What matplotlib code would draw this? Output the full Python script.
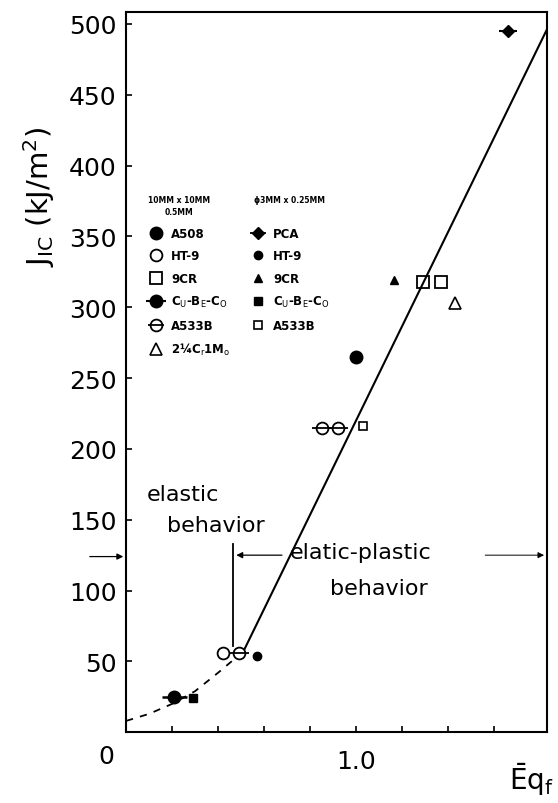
import matplotlib
matplotlib.use("Agg")
import matplotlib.pyplot as plt
from matplotlib.lines import Line2D

# 10MM x 10MM x 0.5MM specimens
a508_x = [1.0]
a508_y = [265]
ht9_x = [0.42]
ht9_y = [56]
cr9_x = [1.29, 1.37]
cr9_y = [318, 318]
cubeco_x = [0.21]
cubeco_y = [25]
a533b_x = [0.85, 0.92, 0.49]
a533b_y = [215, 215, 56]
crmo_x = [1.43]
crmo_y = [303]

# 3MM x 0.25MM specimens
pca_x = [1.66]
pca_y = [495]
ht9s_x = [0.57]
ht9s_y = [54]
cr9s_x = [1.165]
cr9s_y = [319]
cubecos_x = [0.29]
cubecos_y = [24]
a533bs_x = [1.03]
a533bs_y = [216]

# fitted lines
fit_x = [0.51, 1.83]
fit_y = [57, 496]
elastic_x = [0.0, 0.1, 0.2, 0.3, 0.4, 0.51]
elastic_y = [8, 13, 20, 29, 42, 57]

yticks = [50, 100, 150, 200, 250, 300, 350, 400, 450, 500]
xticks = [0.2, 0.4, 0.6, 0.8, 1.0, 1.2, 1.4, 1.6]
xticklabels = ["", "", "", "", "1.0", "", "", ""]

fig = plt.figure(figsize=(5.58, 8.04), dpi=100)
ax = fig.add_axes([0.226, 0.088, 0.754, 0.896])

ax.plot(fit_x, fit_y, color="black", lw=1.5)
ax.plot(elastic_x, elastic_y, color="black", lw=1.3, ls=(0, (4, 4)))

k = dict(color="black", ls="none")
# big specimens
ax.plot(a508_x, a508_y, marker="o", ms=9, **k)
ax.plot(ht9_x, ht9_y, marker="o", ms=8.5, mfc="white", mew=1.3, **k)
ax.plot(cr9_x, cr9_y, marker="s", ms=9, mfc="none", mew=1.3, **k)
ax.plot(cubeco_x, cubeco_y, marker="o", ms=9, **k)
ax.plot(cubeco_x, cubeco_y, marker="_", ms=18, mew=1.8, **k)
ax.plot(a533b_x, a533b_y, marker="o", ms=8.5, mfc="white", mew=1.3, **k)
ax.plot(a533b_x, a533b_y, marker="_", ms=14, mew=1.3, **k)
ax.plot(crmo_x, crmo_y, marker="^", ms=8, mfc="white", mew=1.2, **k)
# small specimens
ax.plot(pca_x, pca_y, marker="D", ms=6, **k)
ax.plot(pca_x, pca_y, marker="_", ms=13, mew=1.5, **k)
ax.plot(ht9s_x, ht9s_y, marker="o", ms=6, **k)
ax.plot(cr9s_x, cr9s_y, marker="^", ms=6, **k)
ax.plot(cubecos_x, cubecos_y, marker="s", ms=6, **k)
ax.plot(a533bs_x, a533bs_y, marker="s", ms=5.5, mfc="white", mew=1.2, **k)

# elastic / elastic-plastic boundary
ax.plot([0.467, 0.467], [61, 133], color="black", lw=1.3)
ax.annotate("", xy=(0.467, 125), xytext=(0.69, 125),
            arrowprops=dict(arrowstyle="-|>", color="black", lw=0.9,
                            mutation_scale=9))
ax.annotate("", xy=(1.83, 125), xytext=(1.55, 125),
            arrowprops=dict(arrowstyle="-|>", color="black", lw=0.7,
                            mutation_scale=9))
ax.annotate("", xy=(0.0, 124), xytext=(-0.17, 124), annotation_clip=False,
            arrowprops=dict(arrowstyle="-|>", color="black", lw=0.9,
                            mutation_scale=9))

ax.text(0.09, 168, "elastic", fontsize=16, ha="left", va="center")
ax.text(0.18, 146, "behavior", fontsize=16, ha="left", va="center")
ax.text(0.71, 127, "elatic-plastic", fontsize=16, ha="left", va="center")
ax.text(1.10, 102, "behavior", fontsize=16, ha="center", va="center")

# legend
fs = 8.5
ax.text(0.23, 374, "10MM x 10MM", fontsize=5.5, fontweight="bold", ha="center")
ax.text(0.23, 366, "0.5MM", fontsize=5.5, fontweight="bold", ha="center")
ax.text(0.555, 374, "\u03d53MM x 0.25MM", fontsize=5.5, fontweight="bold", ha="left")

bar_big = Line2D([], [], marker="_", ms=15, mew=1.5, **k)
bar_small = Line2D([], [], marker="_", ms=12, mew=1.3, **k)
handles = [
    Line2D([], [], marker="o", ms=9, **k),
    Line2D([], [], marker="o", ms=8.5, mfc="white", mew=1.3, **k),
    Line2D([], [], marker="s", ms=9, mfc="none", mew=1.3, **k),
    (Line2D([], [], marker="o", ms=9, **k), bar_big),
    (Line2D([], [], marker="o", ms=8.5, mfc="white", mew=1.3, **k), bar_small),
    Line2D([], [], marker="^", ms=8, mfc="white", mew=1.2, **k),
    (Line2D([], [], marker="D", ms=6, **k), bar_small),
    Line2D([], [], marker="o", ms=6, **k),
    Line2D([], [], marker="^", ms=6, **k),
    Line2D([], [], marker="s", ms=6, **k),
    Line2D([], [], marker="s", ms=5.5, mfc="white", mew=1.2, **k),
]
labels = ["A508", "HT-9", "9CR", r"C$_\mathrm{U}$-B$_\mathrm{E}$-C$_\mathrm{O}$",
          "A533B", "2\u00bcC$_\\mathrm{r}$1M$_\\mathrm{o}$",
          "PCA", "HT-9", "9CR", r"C$_\mathrm{U}$-B$_\mathrm{E}$-C$_\mathrm{O}$",
          "A533B"]
leg = ax.legend(handles, labels, ncol=2, frameon=False, loc="upper left",
                bbox_to_anchor=(0.045, 0.708), prop=dict(size=fs, weight="bold"),
                handlelength=1.0, handletextpad=0.8, columnspacing=1.8,
                labelspacing=0.8, borderaxespad=0)

ax.set_xlim(0, 1.83)
ax.set_ylim(0, 508.5)
ax.set_yticks(yticks)
ax.set_yticklabels([str(v) for v in yticks])
ax.set_xticks(xticks)
ax.set_xticklabels(xticklabels)
ax.tick_params(direction="in", length=4, width=1.2, labelsize=18, pad=7)
ax.tick_params(axis="x", pad=12)
for s in ax.spines.values():
    s.set_linewidth(1.5)

ax.text(-0.085, -17, "0", fontsize=18, ha="center", va="center")
ax.set_ylabel(r"J$_\mathrm{IC}$ (kJ/m$^2$)", fontsize=21, labelpad=8)
ax.yaxis.set_label_coords(-0.165, 0.745)
fig.text(0.912, 0.018, r"$\bar{\mathrm{E}}$q$_\mathrm{f}$", fontsize=20)

fig.savefig("out.png", dpi=100)
